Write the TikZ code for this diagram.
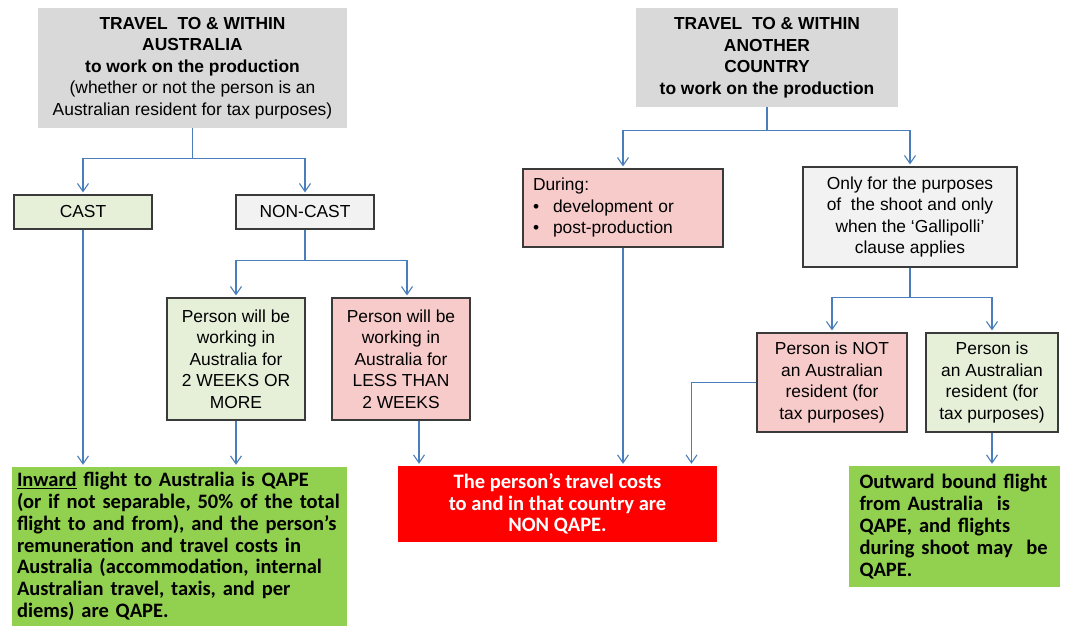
\documentclass[tikz,border=0pt]{standalone}
\usepackage{fontspec}
\setmainfont{Liberation Sans}
\newfontfamily\calib{Carlito}
\usetikzlibrary{arrows.meta,positioning}
\definecolor{titlegray}{HTML}{D9D9D9}
\definecolor{palegreen}{HTML}{E6F0D9}
\definecolor{palepink}{HTML}{F8CBCB}
\definecolor{palegray}{HTML}{F2F2F2}
\definecolor{qgreen}{HTML}{92D050}
\definecolor{linkblue}{HTML}{4A7EBB}
\definecolor{boxline}{HTML}{3A3A3A}

\begin{document}
\begin{tikzpicture}[x=1pt,y=-1pt,
    every node/.style={font=\fontsize{17.4}{21.5}\selectfont, align=center, inner sep=2pt},
    head/.style={fill=titlegray},
    yesbox/.style={draw=boxline, line width=1.1pt, fill=palegreen},
    nobox/.style={draw=boxline, line width=1.1pt, fill=palepink},
    plainbox/.style={draw=boxline, line width=1.1pt, fill=palegray},
    qape/.style={fill=qgreen, align=left, font=\calib\bfseries\fontsize{20.5}{21.8}\selectfont},
    nonqape/.style={fill=red, text=white, font=\calib\bfseries\fontsize{20.5}{21.8}\selectfont},
    link/.style={draw=linkblue, line width=1.1pt},
    arr/.style={link, -{Straight Barb[length=8pt,width=11pt]}, shorten >=2pt}]
      \useasboundingbox (0,0) rectangle (1065,628);

      \node[head, minimum width=309pt, minimum height=120pt] (aus) at (192.5,68)
        {\textbf{TRAVEL\ \ TO \& WITHIN}\\ \textbf{AUSTRALIA}\\ \textbf{to work on the production}\\
         (whether or not the person is an\\ Australian resident for tax purposes)};
      \node[head, minimum width=262pt, minimum height=99pt] (abroad) at (767,57.5)
        {\textbf{TRAVEL\ \ TO \& WITHIN}\\ \textbf{ANOTHER}\\ \textbf{COUNTRY}\\ \textbf{to work on the production}};

      \node[yesbox, minimum width=138pt, minimum height=34pt] (cast) at (83,212) {CAST};
      \node[plainbox, minimum width=138pt, minimum height=34pt] (noncast) at (305,212) {NON-CAST};
      \node[yesbox, minimum width=138pt, minimum height=122pt] (twoplus) at (236,359)
        {Person will be\\ working in\\ Australia for\\ 2 WEEKS OR\\ MORE};
      \node[nobox, minimum width=138pt, minimum height=122pt] (lessthan) at (401,359)
        {Person will be\\ working in\\ Australia for\\ LESS THAN\\ 2 WEEKS};

      \node[nobox, align=left, text width=180pt, inner xsep=10pt, minimum height=78pt] (during) at (623,208)
        {During:\\ \makebox[20pt][l]{\textbullet}development or\\ \makebox[20pt][l]{\textbullet}post-production};
      \node[plainbox, minimum width=214pt, minimum height=100pt] (onlyfor) at (910,217)
        {Only for the purposes\\ of\ \ the shoot and only\\ when the ‘Gallipolli’\\ clause applies};
      \node[nobox, minimum width=150pt, minimum height=99pt] (notres) at (832,382.5)
        {Person is NOT\\ an Australian\\ resident (for\\ tax purposes)};
      \node[yesbox, minimum width=132pt, minimum height=99pt] (isres) at (992,382.5)
        {Person is\\ an Australian\\ resident (for\\ tax purposes)};

      \node[qape, text width=325pt, inner xsep=5pt, minimum height=159pt] (inward) at (179.5,546.5)
        {\underline{Inward} flight to Australia is QAPE\\ (or if not separable, 50\% of the total\\
         flight to and from), and the person’s\\ remuneration and travel costs in\\
         Australia (accommodation, internal\\ Australian travel, taxis, and per\\ diems) are QAPE.};
      \node[nonqape, minimum width=319pt, minimum height=76pt] (nonq) at (557.5,504)
        {The person’s travel costs\\ to and in that country are\\ NON QAPE.};
      \node[qape, text width=190pt, inner xsep=10.5pt, minimum height=121pt] (outward) at (954.5,526.5)
        {Outward bound flight\\ from Australia\ \ is\\ QAPE, and flights\\ during shoot may\ \ be\\ QAPE.};

      \draw[link] (aus.south) -- ++(0,30) coordinate (ja);
      \draw[arr] (ja) -| (cast.north);
      \draw[arr] (ja) -| (noncast.north);
      \draw[link] (noncast.south) -- ++(0,31) coordinate (jn);
      \draw[arr] (jn) -| (twoplus.north);
      \draw[arr] (jn) -| ([xshift=6pt]lessthan.north);
      \draw[arr] (cast.south) -- (cast.south |- inward.north);
      \draw[arr] (twoplus.south) -- (twoplus.south |- inward.north);
      \draw[arr] ([xshift=18pt]lessthan.south) -- ([xshift=18pt]lessthan.south |- nonq.north);

      \draw[link] (abroad.south) -- ++(0,23) coordinate (jb);
      \draw[arr] (jb) -| (during.north);
      \draw[arr] (jb) -| (onlyfor.north);
      \draw[link] (onlyfor.south) -- ++(0,30) coordinate (jo);
      \draw[arr] (jo) -| (notres.north);
      \draw[arr] (jo) -| (isres.north);
      \draw[arr] (during.south) -- (during.south |- nonq.north);
      \draw[arr] (notres.west) -| ([xshift=134pt]nonq.north);
      \draw[arr] (isres.south) -- (isres.south |- outward.north);
\end{tikzpicture}
\end{document}
